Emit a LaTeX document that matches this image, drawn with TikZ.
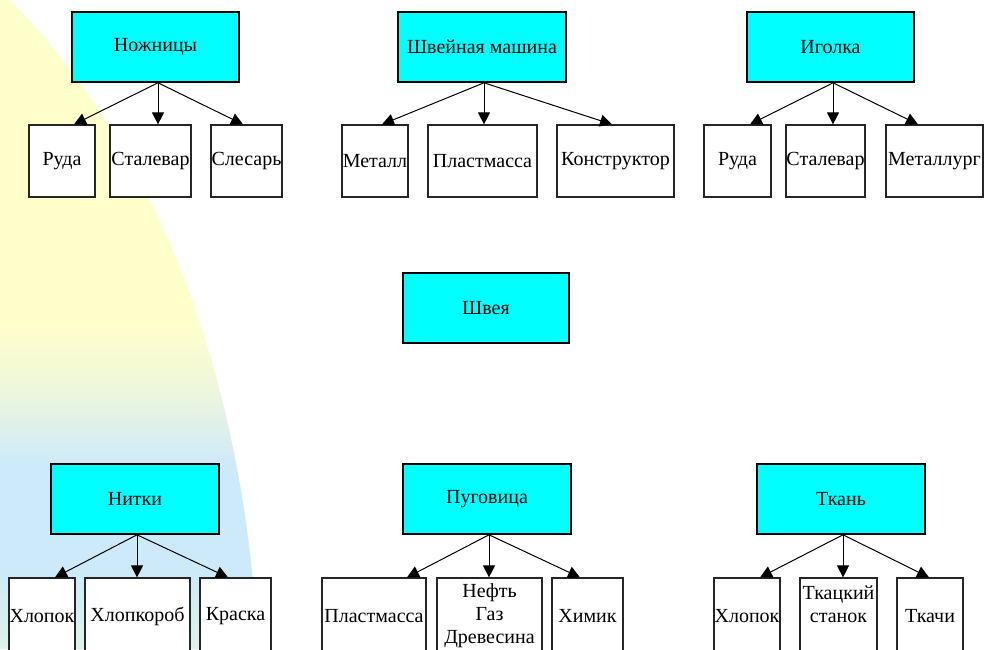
\documentclass[tikz,border=0pt]{standalone}
\usepackage{fontspec}
\setmainfont{Liberation Serif}
\usetikzlibrary{arrows.meta}
\definecolor{bgY}{RGB}{255,255,204}
\definecolor{bgG}{RGB}{238,246,220}
\definecolor{bgBl}{RGB}{204,234,250}
\definecolor{bgBot}{RGB}{222,242,232}
\definecolor{boxcyan}{RGB}{0,255,255}
\pgfdeclareverticalshading{bgshade}{100bp}{color(0bp)=(bgBot); color(25bp)=(bgBot); color(31bp)=(bgBl); color(39bp)=(bgBl); color(45bp)=(bgG); color(50bp)=(bgY); color(75bp)=(bgY); color(100bp)=(bgY)}
\tikzset{
  parentbox/.style={draw=black, line width=1.6pt, fill=boxcyan, inner sep=0pt,
    minimum height=70pt, font=\fontsize{20}{23}\selectfont, align=center},
  childbox/.style={draw=black!85, line width=1.2pt, fill=white, inner sep=0pt,
    font=\fontsize{20}{23}\selectfont, align=center},
  arr/.style={line width=1pt, -{Triangle[length=12pt,width=12pt]}}
}
\begin{document}
\begin{tikzpicture}[x=1pt,y=-1pt]
\useasboundingbox (0,0) rectangle (984,649);
\clip (0,0) rectangle (984,649);
\fill[white] (0,0) rectangle (984,649);
\shade[shading=bgshade] (0,0) -- (10,0) .. controls (140,130) and (243,349) .. (258,649) -- (0,649) -- cycle;

% top parents
\node[parentbox, minimum width=167pt] (nozh) at (155.5,47) {Ножницы};
\node[parentbox, minimum width=168pt] (shvm) at (482,47) {Швейная машина};
\node[parentbox, minimum width=167pt] (igol) at (830.5,47) {Иголка};
% top children
\node[childbox, minimum width=66pt, minimum height=72pt] (ruda1) at (62,161) {Руда};
\node[childbox, minimum width=81pt, minimum height=72pt] (stal1) at (150.5,161) {Сталевар};
\node[childbox, minimum width=71pt, minimum height=72pt] (sles) at (246.5,161) {Слесарь};
\node[childbox, minimum width=66pt, minimum height=72pt] (metl) at (375,161) {Металл};
\node[childbox, minimum width=109pt, minimum height=72pt] (plast1) at (482.5,161) {Пластмасса};
\node[childbox, minimum width=117pt, minimum height=72pt] (konst) at (615.5,161) {Конструктор};
\node[childbox, minimum width=67pt, minimum height=72pt] (ruda2) at (737.5,161) {Руда};
\node[childbox, minimum width=79pt, minimum height=72pt] (stal2) at (825.5,161) {Сталевар};
\node[childbox, minimum width=97pt, minimum height=72pt] (metlg) at (934.5,161) {Металлург};

% centre
\node[parentbox, minimum width=166pt] (shveya) at (486,308) {Швея};

% bottom parents
\node[parentbox, minimum width=168pt] (nitki) at (135,499) {Нитки};
\node[parentbox, minimum width=168pt] (pugov) at (487,499) {Пуговица};
\node[parentbox, minimum width=168pt] (tkan) at (841,499) {Ткань};
% bottom children (their lower edges run past the picture)
\node[childbox, minimum width=66pt, minimum height=76pt] (hlop1) at (42,616) {Хлопок};
\node[childbox, minimum width=105pt, minimum height=76pt] (hlopk) at (137.5,616) {Хлопкороб};
\node[childbox, minimum width=71pt, minimum height=76pt] (krask) at (235.5,616) {Краска};
\node[childbox, minimum width=104pt, minimum height=76pt] (plast2) at (374,616) {Пластмасса};
\node[childbox, minimum width=105pt, minimum height=76pt] (neft) at (489.5,616) {Нефть\\Газ\\Древесина};
\node[childbox, minimum width=71pt, minimum height=76pt] (himik) at (587.5,616) {Химик};
\node[childbox, minimum width=66pt, minimum height=76pt] (hlop2) at (747,616) {Хлопок};
\node[childbox, minimum width=77pt, minimum height=76pt] (tkst) at (838.5,616) {Ткацкий\\станок\\{}};
\node[childbox, minimum width=66pt, minimum height=76pt] (tkachi) at (930,616) {Ткачи};

% arrows top
\draw[arr] ([xshift=2.5pt]nozh.south) -- ([xshift=12pt]ruda1.north);
\draw[arr] ([xshift=2.5pt]nozh.south) -- ([xshift=7.5pt]stal1.north);
\draw[arr] ([xshift=2.5pt]nozh.south) -- ([xshift=-3.5pt]sles.north);
\draw[arr] ([xshift=2pt]shvm.south) -- ([xshift=7pt]metl.north);
\draw[arr] ([xshift=2pt]shvm.south) -- ([xshift=1.5pt]plast1.north);
\draw[arr] ([xshift=2pt]shvm.south) -- ([xshift=-3.5pt]konst.north);
\draw[arr] ([xshift=2.5pt]igol.south) -- ([xshift=12.5pt]ruda2.north);
\draw[arr] ([xshift=2.5pt]igol.south) -- ([xshift=7.5pt]stal2.north);
\draw[arr] ([xshift=2.5pt]igol.south) -- ([xshift=-16.5pt]metlg.north);
% arrows bottom
\draw[arr] ([xshift=2pt]nitki.south) -- ([xshift=13pt]hlop1.north);
\draw[arr] ([xshift=2pt]nitki.south) -- ([xshift=-0.5pt]hlopk.north);
\draw[arr] ([xshift=2pt]nitki.south) -- ([xshift=-7.5pt]krask.north);
\draw[arr] ([xshift=2pt]pugov.south) -- ([xshift=33pt]plast2.north);
\draw[arr] ([xshift=2pt]pugov.south) -- ([xshift=-0.5pt]neft.north);
\draw[arr] ([xshift=2pt]pugov.south) -- ([xshift=-7.5pt]himik.north);
\draw[arr] ([xshift=2pt]tkan.south) -- ([xshift=13pt]hlop2.north);
\draw[arr] ([xshift=2pt]tkan.south) -- ([xshift=4.5pt]tkst.north);
\draw[arr] ([xshift=2pt]tkan.south) -- ([xshift=-1pt]tkachi.north);
\end{tikzpicture}
\end{document}
